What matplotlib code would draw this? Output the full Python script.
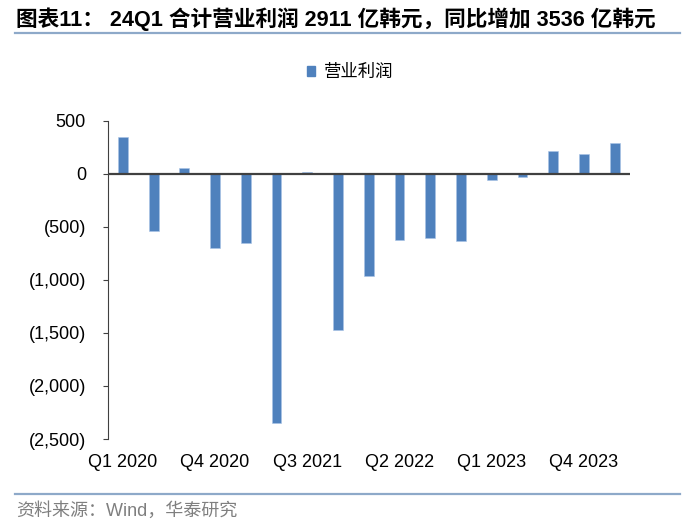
import matplotlib
matplotlib.use("Agg")
import matplotlib.pyplot as plt
from matplotlib.patches import Rectangle
from matplotlib.lines import Line2D

quarters = ["Q1 2020", "Q2 2020", "Q3 2020", "Q4 2020",
            "Q1 2021", "Q2 2021", "Q3 2021", "Q4 2021",
            "Q1 2022", "Q2 2022", "Q3 2022", "Q4 2022",
            "Q1 2023", "Q2 2023", "Q3 2023", "Q4 2023", "Q1 2024"]
op_profit = [351, -543, 56, -696, -653, -2345, 12, -1474, -960,
             -621, -609, -637, -63, -30, 216, 188, 291]
yticks = [500, 0, -500, -1000, -1500, -2000, -2500]
ytick_labels = ["500", "0", "(500)", "(1,000)", "(1,500)", "(2,000)", "(2,500)"]
series_name = "营业利润"
title = "图表11： 24Q1 合计营业利润 2911 亿韩元，同比增加 3536 亿韩元"
source = "资料来源：Wind，华泰研究"

LAT = ["Liberation Sans", "Noto Sans CJK SC", "DejaVu Sans"]
CJK = ["Noto Sans CJK SC", "DejaVu Sans"]
bar_color = "#4F81BD"

fig = plt.figure(figsize=(7.0, 5.29), dpi=100)
ax = fig.add_axes([107.5 / 700, 1 - 439 / 529, (630 - 107.5) / 700, (439 - 120.7) / 529])

x = list(range(len(quarters)))
ax.bar(x, op_profit, width=0.32, color=bar_color, edgecolor="#A9C4E6", linewidth=0.4, zorder=2)
ax.axhline(0, color="#404040", lw=1.6, zorder=3)

ax.set_xlim(-0.5, len(quarters) - 0.5)
ax.set_ylim(-2500, 500)
ax.set_yticks(yticks)
ax.set_yticklabels(ytick_labels, fontfamily=LAT, fontsize=13)
ax.set_xticks(x[::3])
ax.set_xticklabels(quarters[::3], fontfamily=LAT, fontsize=13)
ax.tick_params(axis="x", length=0, pad=11)
ax.tick_params(axis="y", length=3.5, width=0.8, color="#404040", pad=12)
for s in ["top", "right", "bottom"]:
    ax.spines[s].set_visible(False)
ax.spines["left"].set_color("#404040")
ax.spines["left"].set_linewidth(0.8)

# legend
handle = Rectangle((0, 0), 1, 1, color=bar_color)
fig.legend([handle], [series_name], loc="center", bbox_to_anchor=(350 / 700, 1 - 72 / 529),
           frameon=False, prop={"family": CJK, "size": 12.5}, handlelength=0.5, handleheight=0.5,
           handletextpad=0.5)

# title
fig.text(16 / 700, 1 - 19.5 / 529, title, fontsize=15.6, fontweight="bold", fontfamily=LAT,
         ha="left", va="center")
fig.add_artist(Line2D([15 / 700, 680 / 700], [1 - 33.3 / 529] * 2, color="#8EA9C9", lw=1.6,
                      transform=fig.transFigure))
# source
fig.add_artist(Line2D([15 / 700, 680 / 700], [1 - 494 / 529] * 2, color="#8EA9C9", lw=1.6,
                      transform=fig.transFigure))
fig.text(16 / 700, 1 - 511 / 529, source, fontsize=13, fontfamily=LAT, color="#7F7F7F",
         ha="left", va="center")

fig.savefig("out.png", dpi=100)
